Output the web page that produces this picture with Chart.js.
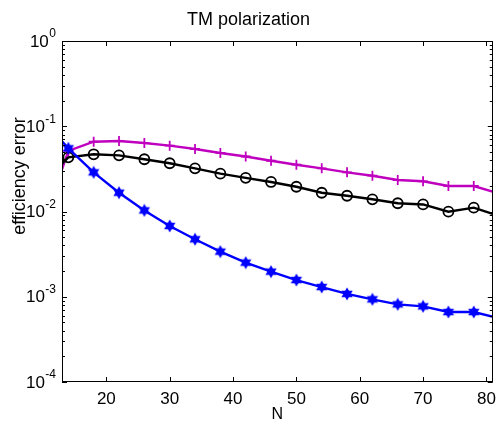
<!DOCTYPE html>
<html>
<head>
<meta charset="utf-8">
<title>TM polarization</title>
<script src="https://cdn.jsdelivr.net/npm/chart.js@4"></script>
<style>
    html, body { margin: 0; padding: 0; background: #fff; }
    #wrap { width: 503px; height: 424px; }
</style>
</head>
<body>
<div id="wrap"><canvas id="chart" width="503" height="424"></canvas></div>
<script>
// N values (first and last points sit just outside the visible x range)
const nValues = [10, 14, 18, 22, 26, 30, 34, 38, 42, 46, 50, 54, 58, 62, 66, 70, 74, 78, 82];

// efficiency error
const magentaErr = [0.0070, 0.0513, 0.0659, 0.0671, 0.0636, 0.0592, 0.0541, 0.0486, 0.0442, 0.0394,
                    0.0354, 0.0321, 0.0288, 0.0263, 0.0234, 0.0226, 0.0199, 0.0199, 0.0162];
const blackErr = [0.0216, 0.0432, 0.0469, 0.0456, 0.0410, 0.0368, 0.0321, 0.0278, 0.0248, 0.0222,
                  0.0195, 0.0166, 0.0153, 0.0139, 0.0125, 0.0121, 0.00995, 0.0111, 0.00883];
const blueErr = [0.118, 0.0551, 0.0288, 0.0166, 0.0103, 0.00676, 0.00472, 0.00338, 0.00251, 0.00197,
                 0.00157, 0.00130, 0.00108, 0.000933, 0.000815, 0.000772, 0.000662, 0.000662, 0.000559];

const xTicks = [20, 30, 40, 50, 60, 70, 80];
const yTicks = [1e-4, 1e-3, 1e-2, 1e-1, 1];
const yTickBase = '10';
const yTickExps = ['-4', '-3', '-2', '-1', '0'];

const FONT = "'Liberation Sans', Arial, Helvetica, sans-serif";

function toPoints(ys) {
    return nValues.map((n, i) => ({ x: n, y: ys[i] }));
}

// filled six-pointed star, like matlab's hexagram marker
function hexagram(size, color) {
    const c = document.createElement('canvas');
    c.width = size;
    c.height = size;
    const g = c.getContext('2d');
    const m = size / 2;
    const r = size / 2 - 0.5;
    g.fillStyle = color;
    for (let k = 0; k < 2; k++) {
        g.beginPath();
        for (let i = 0; i < 3; i++) {
            const a = -Math.PI / 2 + k * Math.PI + i * 2 * Math.PI / 3;
            g.lineTo(m + r * Math.cos(a), m + r * Math.sin(a));
        }
        g.closePath();
        g.fill();
    }
    return c;
}

// box around the axes, inward ticks on all four sides, 10^n labels and the y label
const axesBox = {
    id: 'axesBox',
    afterDatasetsDraw(chart) {
        const { ctx, chartArea: a, scales: { x, y } } = chart;
        ctx.save();
        ctx.strokeStyle = '#000';
        ctx.lineWidth = 1;
        ctx.beginPath();
        xTicks.forEach(v => {
            const px = Math.round(x.getPixelForValue(v)) + 0.5;
            ctx.moveTo(px, a.bottom); ctx.lineTo(px, a.bottom - 5);
            ctx.moveTo(px, a.top); ctx.lineTo(px, a.top + 5);
        });
        yTicks.forEach((v, i) => {
            const py = Math.round(y.getPixelForValue(v)) + 0.5;
            ctx.moveTo(a.left, py); ctx.lineTo(a.left + 5, py);
            ctx.moveTo(a.right, py); ctx.lineTo(a.right - 5, py);
            if (i < yTicks.length - 1) {
                for (let m = 2; m <= 9; m++) {
                    const pm = Math.round(y.getPixelForValue(v * m)) + 0.5;
                    ctx.moveTo(a.left, pm); ctx.lineTo(a.left + 3, pm);
                    ctx.moveTo(a.right, pm); ctx.lineTo(a.right - 3, pm);
                }
            }
        });
        ctx.stroke();
        ctx.strokeRect(Math.round(a.left) + 0.5, Math.round(a.top) + 0.5,
            Math.round(a.right - a.left) - 1, Math.round(a.bottom - a.top) - 1);

        ctx.fillStyle = '#000';
        ctx.textAlign = 'right';
        ctx.textBaseline = 'middle';
        const labelRight = a.left - 6;
        yTicks.forEach((v, i) => {
            const py = y.getPixelForValue(v);
            ctx.font = '12px ' + FONT;
            const ew = ctx.measureText(yTickExps[i]).width;
            ctx.fillText(yTickExps[i], labelRight, py - 7);
            ctx.font = '17px ' + FONT;
            ctx.fillText(yTickBase, labelRight - ew - 0.5, py + 1);
        });

        ctx.font = '18px ' + FONT;
        ctx.textAlign = 'center';
        ctx.translate(20, 176);
        ctx.rotate(-Math.PI / 2);
        ctx.fillText('efficiency error', 0, 0);
        ctx.restore();
    }
};

const chart = new Chart(document.getElementById('chart'), {
    type: 'line',
    data: {
        datasets: [
            {
                data: toPoints(blueErr),
                borderColor: '#0000ff',
                borderWidth: 2.4,
                pointStyle: hexagram(14, '#0000ff'),
                pointRadius: 6,
                clip: 0
            },
            {
                data: toPoints(blackErr),
                borderColor: '#000000',
                borderWidth: 2.4,
                pointStyle: 'circle',
                pointRadius: 5,
                pointBorderWidth: 1.8,
                pointBorderColor: '#000000',
                pointBackgroundColor: 'rgba(0,0,0,0)',
                clip: 0
            },
            {
                data: toPoints(magentaErr),
                borderColor: 'rgb(191, 0, 191)',
                borderWidth: 2.4,
                pointStyle: 'cross',
                pointRadius: 5,
                pointBorderWidth: 1.8,
                pointBorderColor: 'rgb(191, 0, 191)',
                clip: 0
            }
        ]
    },
    options: {
        responsive: false,
        animation: false,
        devicePixelRatio: 1,
        events: [],
        elements: { line: { tension: 0 } },
        layout: { padding: { left: 0, right: 6, top: 0, bottom: 0 } },
        plugins: {
            legend: { display: false },
            tooltip: { enabled: false },
            title: {
                display: true,
                text: 'TM polarization',
                color: '#000',
                font: { family: FONT, size: 18, weight: 'normal' },
                padding: { top: 9, bottom: 10.4 }
            }
        },
        scales: {
            x: {
                type: 'linear',
                min: 13,
                max: 81,
                grid: { display: false, drawTicks: false },
                border: { display: false },
                afterBuildTicks: s => { s.ticks = xTicks.map(v => ({ value: v })); },
                afterFit: s => { s.height = 42; },
                ticks: {
                    color: '#000',
                    font: { family: FONT, size: 17 },
                    padding: 7,
                    maxRotation: 0,
                    autoSkip: false
                },
                title: {
                    display: true,
                    text: 'N',
                    color: '#000',
                    font: { family: FONT, size: 16 },
                    padding: { top: 0, bottom: 0 }
                }
            },
            y: {
                type: 'logarithmic',
                min: 1e-4,
                max: 1,
                grid: { display: false, drawTicks: false },
                border: { display: false },
                afterBuildTicks: s => { s.ticks = yTicks.map(v => ({ value: v })); },
                afterFit: s => { s.width = 62; },
                ticks: { display: false }
            }
        }
    },
    plugins: [axesBox]
});
</script>
</body>
</html>
